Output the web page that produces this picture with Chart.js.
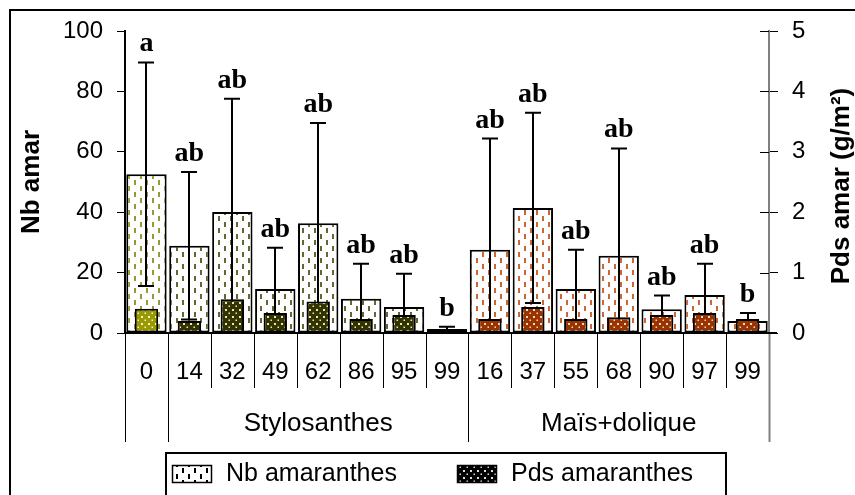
<!DOCTYPE html>
<html><head><meta charset="utf-8">
<script src="https://cdn.jsdelivr.net/npm/chart.js@4.4.1/dist/chart.umd.min.js"></script>
<style>html,body{margin:0;padding:0;background:#fff}canvas{display:block}</style>
</head><body>
<canvas id="c" width="855" height="495"></canvas>
<script>
// ---- data ----
const categories = ['0','14','32','49','62','86','95','99','16','37','55','68','90','97','99'];
const groupLabels = ['', 'Stylosanthes', 'Maïs+dolique'];
const groupOf = [0,1,1,1,1,1,1,1,2,2,2,2,2,2,2];
const nbAmar  = [52.6, 28.9, 40.1, 14.6, 36.3, 11.3, 8.6, 1.3, 27.6, 41.4, 14.6, 25.6, 7.9, 12.6, 4.0];
const nbErr   = [37.0, 24.4, 37.5, 13.6, 33.2, 11.6, 11.0, 0.8, 36.8, 31.5, 13.0, 35.5, 4.5, 10.3, 2.6];
const pdsAmar = [0.40, 0.20, 0.56, 0.33, 0.52, 0.23, 0.30, 0.03, 0.23, 0.43, 0.23, 0.26, 0.30, 0.33, 0.23];
const letters = ['a','ab','ab','ab','ab','ab','ab','b','ab','ab','ab','ab','ab','ab','b'];
const seriesNames = ['Nb amaranthes', 'Pds amaranthes'];
const nbTicks  = [0, 20, 40, 60, 80, 100];
const pdsTicks = [0, 1, 2, 3, 4, 5];
const axisTitles = ['Nb amar', 'Pds amar (g/m²)'];

// ---- styles ----
const SANS = "'Liberation Sans', Arial, sans-serif";
const SERIF = "'Liberation Serif', 'Times New Roman', serif";
const dashColors = ['#999933', '#666633', '#cc6633'];
const fillColors = ['#999900', '#333300', '#993300'];
const dotColors  = ['#f4f4d0', '#e8e8c0', '#f8d8c0'];

const canvas = document.getElementById('c');
const ctx = canvas.getContext('2d');

function dashPattern(color) {
  const c = document.createElement('canvas'); c.width = 12; c.height = 12;
  const g = c.getContext('2d');
  g.fillStyle = '#fff'; g.fillRect(0, 0, 12, 12);
  g.fillStyle = color;
  g.fillRect(2, 0, 2, 5); g.fillRect(8, 6, 2, 5);
  return ctx.createPattern(c, 'repeat');
}
function dotPattern(color, dot) {
  const c = document.createElement('canvas'); c.width = 7; c.height = 7;
  const g = c.getContext('2d');
  g.fillStyle = color; g.fillRect(0, 0, 7, 7);
  g.fillStyle = dot;
  g.fillRect(1, 1, 2, 2); g.fillRect(4.5, 4.5, 1.5, 1.5);
  return ctx.createPattern(c, 'repeat');
}
const nbFill  = groupOf.map(g => dashPattern(dashColors[g]));
const pdsFill = groupOf.map(g => dotPattern(fillColors[g], dotColors[g]));

const decor = {
  id: 'decor',
  afterDatasetDraw(chart, args) {
    if (args.index !== 0) return;
    const c = chart.ctx, y = chart.scales.y, meta = chart.getDatasetMeta(0);
    c.save(); c.strokeStyle = '#000'; c.lineWidth = 2;
    meta.data.forEach((bar, i) => {
      const x = Math.round(bar.x);
      const lo = nbAmar[i] - nbErr[i];
      const top = y.getPixelForValue(nbAmar[i] + nbErr[i]);
      const bot = y.getPixelForValue(Math.max(0, lo));
      c.beginPath();
      c.moveTo(x, top); c.lineTo(x, bot);
      c.moveTo(x - 8, top); c.lineTo(x + 8, top);
      if (lo > 0) { c.moveTo(x - 8, bot); c.lineTo(x + 8, bot); }
      c.stroke();
    });
    c.restore();
  },
  afterDraw(chart) {
    const c = chart.ctx, xs = chart.scales.x, y = chart.scales.y, y1 = chart.scales.y1;
    const area = chart.chartArea;
    const meta = chart.getDatasetMeta(0);
    c.save();
    // letters
    c.fillStyle = '#000'; c.font = 'bold 28px ' + SERIF;
    c.textAlign = 'center'; c.textBaseline = 'alphabetic';
    meta.data.forEach((bar, i) => {
      const top = y.getPixelForValue(nbAmar[i] + nbErr[i]);
      c.fillText(letters[i], bar.x, top - 11);
    });
    // category separators
    const n = categories.length;
    const bounds = [];
    for (let i = 0; i <= n; i++) {
      if (i === 0) bounds.push(area.left);
      else if (i === n) bounds.push(area.right);
      else bounds.push((xs.getPixelForValue(i - 1) + xs.getPixelForValue(i)) / 2);
    }
    for (let i = 0; i <= n; i++) {
      const long = i === 0 || i === n || groupOf[i] !== groupOf[i - 1];
      const bx = Math.round(bounds[i]) + 0.5;
      c.strokeStyle = i === n ? '#808080' : '#000';
      c.lineWidth = i === n ? 2 : 1;
      c.beginPath(); c.moveTo(bx, area.bottom); c.lineTo(bx, long ? 442 : 388); c.stroke();
    }
    // group labels
    c.font = '26px ' + SANS; c.textBaseline = 'middle'; c.fillStyle = '#000';
    groupLabels.forEach((lab, g) => {
      if (!lab) return;
      const idx = groupOf.map((v, i) => v === g ? i : -1).filter(v => v >= 0);
      const x0 = bounds[idx[0]], x1 = bounds[idx[idx.length - 1] + 1];
      c.fillText(lab, (x0 + x1) / 2, 424);
    });
    // baseline extension and inner right ticks
    c.strokeStyle = '#000'; c.lineWidth = 2;
    c.beginPath(); c.moveTo(area.right - 2, area.bottom); c.lineTo(area.right + 8, area.bottom); c.stroke();
    c.lineWidth = 1;
    pdsTicks.forEach(t => {
      const py = Math.round(y1.getPixelForValue(t)) + 0.5;
      c.beginPath(); c.moveTo(area.right - 9, py); c.lineTo(area.right, py); c.stroke();
    });
    // right title
    c.save();
    c.translate(842, 186); c.rotate(-Math.PI / 2);
    c.font = 'bold 26px ' + SANS; c.textAlign = 'center'; c.textBaseline = 'middle';
    c.fillText(axisTitles[1], 0, 0);
    c.restore();
    // legend
    c.lineWidth = 2; c.strokeStyle = '#000';
    c.strokeRect(166, 453, 560, 60);
    const sw = [[172, 465], [457, 465]];
    const legFills = [dashPattern('#000'), dotPattern('#000', '#ddd')];
    sw.forEach((p, k) => {
      c.fillStyle = legFills[k]; c.fillRect(p[0], p[1], 40, 18);
      c.lineWidth = 1.5; c.strokeRect(p[0] + 0.5, p[1] + 0.5, 39, 17);
      c.fillStyle = '#000'; c.font = '25px ' + SANS; c.textAlign = 'left'; c.textBaseline = 'middle';
      c.fillText(seriesNames[k], p[0] + 54, p[1] + 9);
    });
    // outer frame
    c.lineWidth = 2; c.strokeStyle = '#000';
    c.beginPath(); c.moveTo(10, 500); c.lineTo(10, 10); c.lineTo(860, 10); c.stroke();
    c.restore();
  }
};

new Chart(ctx, {
  type: 'bar',
  data: {
    labels: categories,
    datasets: [
      { label: seriesNames[0], data: nbAmar, yAxisID: 'y', backgroundColor: nbFill,
        borderColor: '#000', borderWidth: 2, borderSkipped: false, grouped: false, order: 1,
        categoryPercentage: 1, barPercentage: 0.94 },
      { label: seriesNames[1], data: pdsAmar, yAxisID: 'y1', backgroundColor: pdsFill,
        borderColor: '#000', borderWidth: 2, borderSkipped: false, grouped: false, order: 0,
        categoryPercentage: 1, barPercentage: 0.545 }
    ]
  },
  options: {
    responsive: false, animation: false, devicePixelRatio: 1,
    layout: { padding: { top: 31, left: 0, right: 0, bottom: 0 } },
    plugins: { legend: { display: false }, tooltip: { enabled: false } },
    scales: {
      x: {
        offset: true,
        grid: { display: false },
        border: { display: true, color: '#000', width: 2 },
        ticks: { color: '#000', font: { family: SANS, size: 24 }, padding: 17, maxRotation: 0, autoSkip: false },
        afterFit(s) { s.height = 162; }
      },
      y: {
        position: 'left', min: nbTicks[0], max: nbTicks[nbTicks.length - 1],
        ticks: { stepSize: nbTicks[1] - nbTicks[0], color: '#000', font: { family: SANS, size: 24 }, padding: 14 },
        grid: { display: true, drawOnChartArea: false, drawTicks: true, tickLength: 8, tickColor: '#000', tickWidth: 1 },
        border: { display: true, color: '#000', width: 2 },
        title: { display: true, text: axisTitles[0], color: '#000', font: { family: SANS, size: 26, weight: 'bold' }, padding: { top: 16, bottom: 0 } },
        afterFit(s) { s.width = 125; }
      },
      y1: {
        position: 'right', min: pdsTicks[0], max: pdsTicks[pdsTicks.length - 1],
        ticks: { stepSize: pdsTicks[1] - pdsTicks[0], color: '#000', font: { family: SANS, size: 24 }, padding: 14 },
        grid: { display: true, drawOnChartArea: false, drawTicks: true, tickLength: 9, tickColor: '#000', tickWidth: 1 },
        border: { display: true, color: '#808080', width: 2 },
        afterFit(s) { s.width = 86; }
      }
    }
  },
  plugins: [decor]
});
</script>
</body></html>
